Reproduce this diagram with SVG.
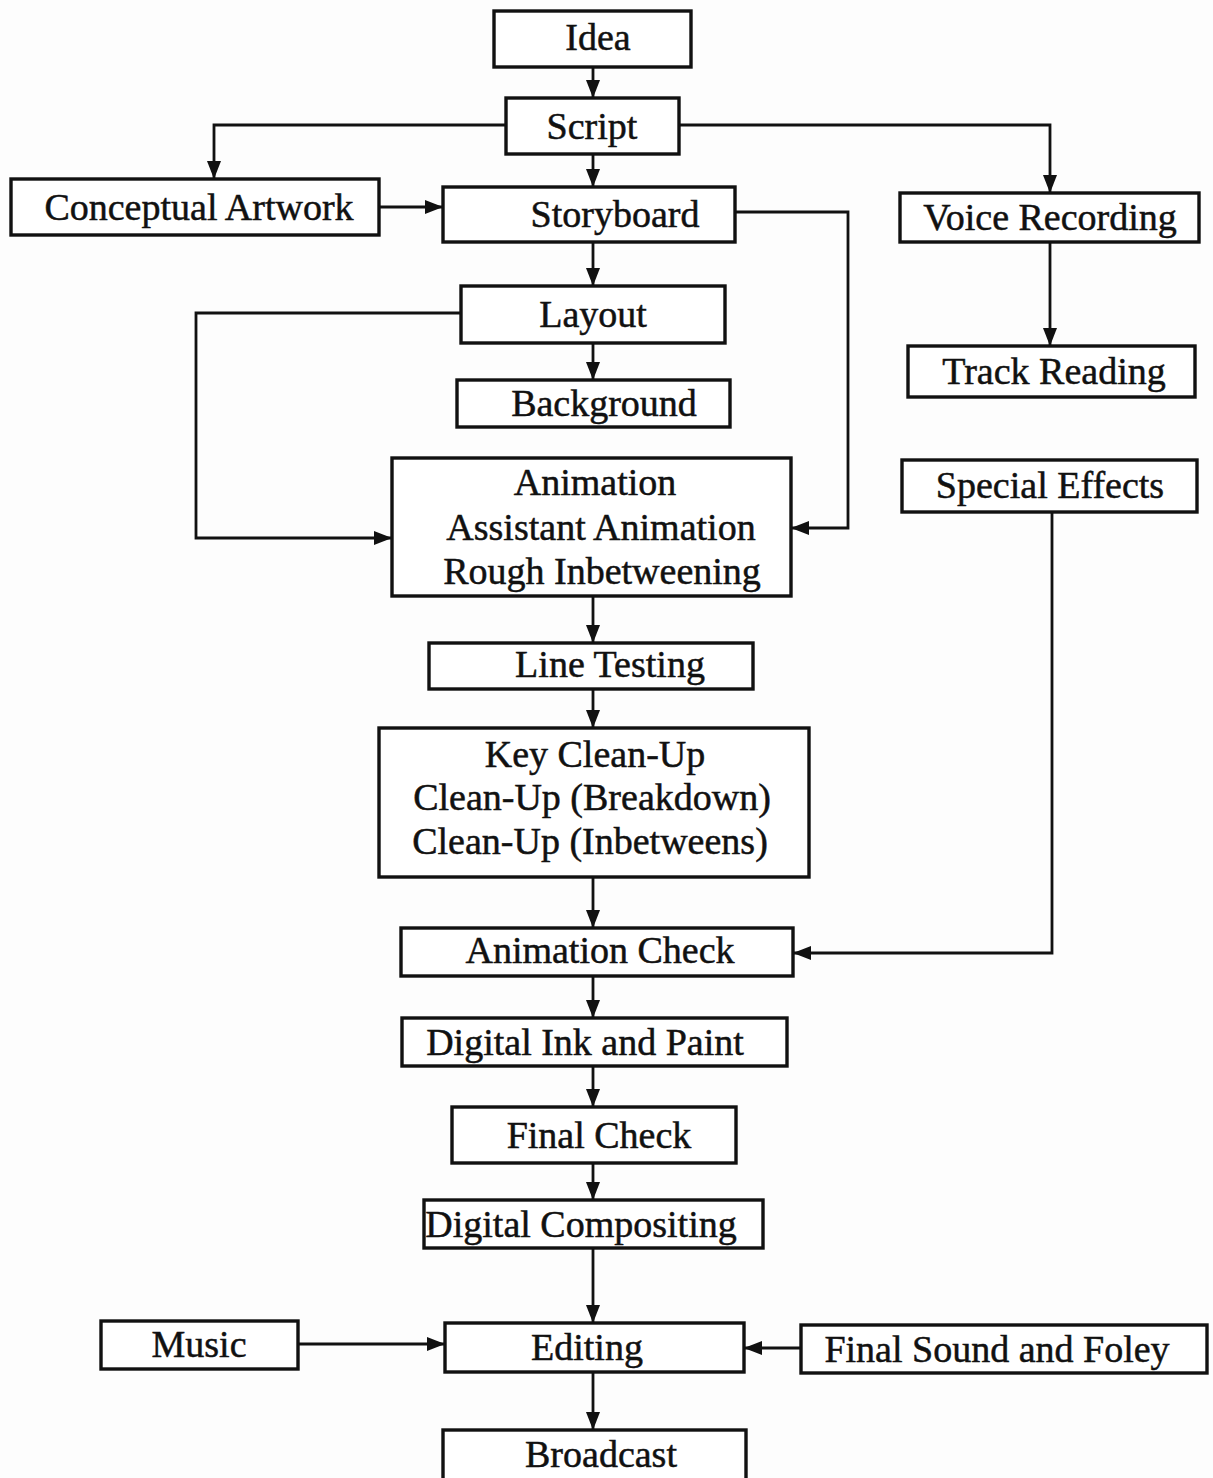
<svg xmlns="http://www.w3.org/2000/svg" width="1213" height="1478" viewBox="0 0 1213 1478">
<style>
.box{fill:#ffffff;stroke:#111;stroke-width:3.4}
.lbl{font-family:"Liberation Serif","Times New Roman",serif;font-size:38px;fill:#111;stroke:#111;stroke-width:0.5;text-anchor:middle}
.con{fill:none;stroke:#111;stroke-width:2.8}
</style>
<defs>
<marker id="arr" markerUnits="userSpaceOnUse" markerWidth="20" markerHeight="16" refX="18" refY="7" orient="auto">
<path d="M0,0 L18,7 L0,14 z" fill="#111"/>
</marker>
</defs>
<rect width="1213" height="1478" fill="#fdfdfd"/>
<g id="connectors">
<path class="con" d="M593,67 V98" marker-end="url(#arr)"/>
<path class="con" d="M506,125 H214 V179" marker-end="url(#arr)"/>
<path class="con" d="M679,125 H1050 V193" marker-end="url(#arr)"/>
<path class="con" d="M593,154 V187" marker-end="url(#arr)"/>
<path class="con" d="M379,207 H443" marker-end="url(#arr)"/>
<path class="con" d="M593,242 V286" marker-end="url(#arr)"/>
<path class="con" d="M735,212 H848 V528 H791" marker-end="url(#arr)"/>
<path class="con" d="M1050,242 V346" marker-end="url(#arr)"/>
<path class="con" d="M593,343 V380" marker-end="url(#arr)"/>
<path class="con" d="M461,313 H196 V538 H392" marker-end="url(#arr)"/>
<path class="con" d="M593,596 V643" marker-end="url(#arr)"/>
<path class="con" d="M593,689 V728" marker-end="url(#arr)"/>
<path class="con" d="M593,877 V928" marker-end="url(#arr)"/>
<path class="con" d="M1052,512 V953 H793" marker-end="url(#arr)"/>
<path class="con" d="M593,976 V1018" marker-end="url(#arr)"/>
<path class="con" d="M593,1066 V1107" marker-end="url(#arr)"/>
<path class="con" d="M593,1163 V1200" marker-end="url(#arr)"/>
<path class="con" d="M593,1248 V1323" marker-end="url(#arr)"/>
<path class="con" d="M298,1344 H445" marker-end="url(#arr)"/>
<path class="con" d="M801,1348 H744" marker-end="url(#arr)"/>
<path class="con" d="M593,1372 V1430" marker-end="url(#arr)"/>
</g>
<g id="idea"><rect class="box" x="494" y="11" width="197" height="56"/><text class="lbl" x="598" y="50">Idea</text></g>
<g id="script"><rect class="box" x="506" y="98" width="173" height="56"/><text class="lbl" x="592" y="139">Script</text></g>
<g id="conceptual-artwork"><rect class="box" x="11" y="179" width="368" height="56"/><text class="lbl" x="199" y="220">Conceptual Artwork</text></g>
<g id="storyboard"><rect class="box" x="443" y="187" width="292" height="55"/><text class="lbl" x="615" y="227">Storyboard</text></g>
<g id="voice-recording"><rect class="box" x="900" y="193" width="299" height="49"/><text class="lbl" x="1050" y="230">Voice Recording</text></g>
<g id="layout"><rect class="box" x="461" y="286" width="264" height="57"/><text class="lbl" x="593" y="327">Layout</text></g>
<g id="track-reading"><rect class="box" x="908" y="346" width="287" height="51"/><text class="lbl" x="1054" y="384">Track Reading</text></g>
<g id="background"><rect class="box" x="457" y="380" width="273" height="47"/><text class="lbl" x="604" y="416">Background</text></g>
<g id="special-effects"><rect class="box" x="902" y="460" width="295" height="52"/><text class="lbl" x="1050" y="498">Special Effects</text></g>
<g id="animation"><rect class="box" x="392" y="458" width="399" height="138"/><text class="lbl" x="595" y="495">Animation</text><text class="lbl" x="601" y="540">Assistant Animation</text><text class="lbl" x="602" y="584">Rough Inbetweening</text></g>
<g id="line-testing"><rect class="box" x="429" y="643" width="324" height="46"/><text class="lbl" x="610" y="677">Line Testing</text></g>
<g id="clean-up"><rect class="box" x="379" y="728" width="430" height="149"/><text class="lbl" x="595" y="767">Key Clean-Up</text><text class="lbl" x="592" y="810">Clean-Up (Breakdown)</text><text class="lbl" x="590" y="854">Clean-Up (Inbetweens)</text></g>
<g id="animation-check"><rect class="box" x="401" y="928" width="392" height="48"/><text class="lbl" x="600" y="963">Animation Check</text></g>
<g id="digital-ink-and-paint"><rect class="box" x="402" y="1018" width="385" height="48"/><text class="lbl" x="585" y="1055">Digital Ink and Paint</text></g>
<g id="final-check"><rect class="box" x="452" y="1107" width="284" height="56"/><text class="lbl" x="599" y="1148">Final Check</text></g>
<g id="digital-compositing"><rect class="box" x="424" y="1200" width="339" height="48"/><text class="lbl" x="581" y="1237">Digital Compositing</text></g>
<g id="music"><rect class="box" x="101" y="1321" width="197" height="48"/><text class="lbl" x="199" y="1357">Music</text></g>
<g id="editing"><rect class="box" x="445" y="1323" width="299" height="49"/><text class="lbl" x="587" y="1360">Editing</text></g>
<g id="final-sound-and-foley"><rect class="box" x="801" y="1325" width="406" height="48"/><text class="lbl" x="997" y="1362">Final Sound and Foley</text></g>
<g id="broadcast"><rect class="box" x="443" y="1430" width="303" height="60"/><text class="lbl" x="601" y="1467">Broadcast</text></g>
</svg>
